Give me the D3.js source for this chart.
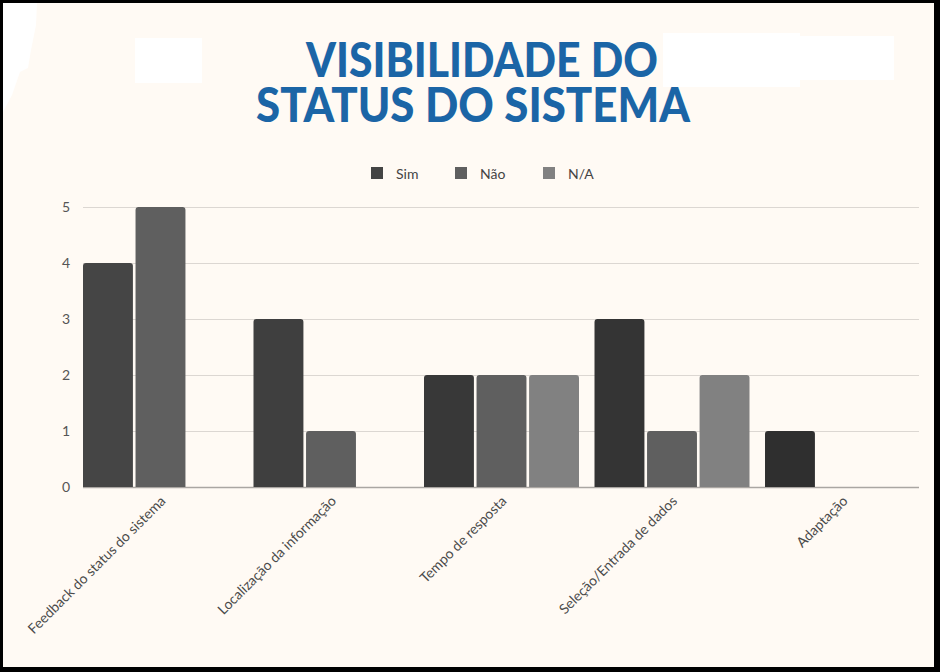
<!DOCTYPE html>
<html>
<head>
<meta charset="utf-8">
<script src="https://cdn.jsdelivr.net/npm/d3@7"></script>
<style>
  html, body { margin: 0; padding: 0; background: #000; }
  svg { display: block; }
</style>
</head>
<body>
<svg id="chart" width="940" height="672"></svg>
<script>
// ---- data ----
const categories = ["Feedback do status do sistema", "Localização da informação", "Tempo de resposta", "Seleção/Entrada de dados", "Adaptação"];
const seriesNames = ["Sim", "Não", "N/A"];
const simValues = [4, 3, 2, 3, 1];
const naoValues = [5, 1, 2, 1, 0];
const naValues  = [0, 0, 2, 2, 0];
const yTicks = [0, 1, 2, 3, 4, 5];
const titleLines = ["VISIBILIDADE DO", "STATUS DO SISTEMA"];

// ---- styles ----
const seriesColors = ["#444444", "#5f5f5f", "#818181"];
const simShades = ["#454545", "#3f3f3f", "#383838", "#343434", "#2f2f2f"];

const svg = d3.select("#chart");
const W = 940, H = 672;

// frame / background
svg.append("rect").attr("x", 0).attr("y", 0).attr("width", W).attr("height", H).attr("fill", "#000");
svg.append("rect").attr("x", 3).attr("y", 3).attr("width", 931).attr("height", 664).attr("fill", "#fffaf4");

// white patches (artifacts in the reference)
svg.append("path").attr("d", "M3,3 L37,3 L36,25 L31,50 L28,68 L20,72 L12,95 L3,112 Z").attr("fill", "#ffffff");
svg.append("rect").attr("x", 135).attr("y", 38).attr("width", 67).attr("height", 45).attr("fill", "#ffffff");
svg.append("rect").attr("x", 663).attr("y", 33).attr("width", 137).attr("height", 54).attr("fill", "#ffffff");
svg.append("rect").attr("x", 800).attr("y", 36).attr("width", 94).attr("height", 44).attr("fill", "#ffffff");

// title (one text element, two lines)
const titleSpecs = [
  { cx: 482, y: 77, len: 352 },
  { cx: 473, y: 122, len: 434 }
];
const title = svg.append("text")
  .attr("text-anchor", "middle")
  .attr("font-family", "Lato, 'DejaVu Sans', sans-serif")
  .attr("font-weight", 900)
  .attr("font-size", 47)
  .attr("fill", "#1b65a6");
titleLines.forEach((t, i) => {
  title.append("tspan")
    .attr("x", titleSpecs[i].cx)
    .attr("y", titleSpecs[i].y)
    .attr("textLength", titleSpecs[i].len)
    .attr("lengthAdjust", "spacingAndGlyphs")
    .text(t);
});

// scales
const x0 = d3.scaleBand().domain(categories).range([83, 920]).paddingInner(0.091).paddingOuter(0);
const x1 = d3.scaleBand().domain(seriesNames).range([0, x0.bandwidth()]).paddingInner(0.05);
const y = d3.scaleLinear().domain([0, 5]).range([487, 207]);

// grid
const gridG = svg.append("g");
yTicks.forEach(t => {
  gridG.append("line")
    .attr("x1", 83).attr("x2", 919)
    .attr("y1", y(t) + 0.5).attr("y2", y(t) + 0.5)
    .attr("stroke", t === 0 ? "#aaa6a2" : "#dcd7d2")
    .attr("stroke-width", t === 0 ? 1.5 : 1);
});

// y axis labels
const yAxis = d3.axisLeft(y).tickValues(yTicks).tickSize(0).tickPadding(0).tickFormat(d3.format("d"));
const yG = svg.append("g").attr("transform", "translate(70,0)").call(yAxis);
yG.select(".domain").remove();
yG.selectAll("text")
  .attr("font-family", "Lato, sans-serif")
  .attr("font-size", 14)
  .attr("fill", "#555");

// bars
const seriesValues = [simValues, naoValues, naValues];
const rows = [];
categories.forEach((c, ci) => {
  seriesNames.forEach((s, si) => {
    rows.push({ cat: c, ci, series: s, si, value: seriesValues[si][ci] });
  });
});

function topRounded(x, yTop, w, yBot, r) {
  const h = yBot - yTop;
  r = Math.min(r, h, w / 2);
  return `M${x},${yBot} L${x},${yTop + r} Q${x},${yTop} ${x + r},${yTop} L${x + w - r},${yTop} Q${x + w},${yTop} ${x + w},${yTop + r} L${x + w},${yBot} Z`;
}

svg.append("g").selectAll("path")
  .data(rows.filter(d => d.value > 0))
  .join("path")
  .attr("d", d => topRounded(x0(d.cat) + x1(d.series), y(d.value), x1.bandwidth(), y(0), 3))
  .attr("fill", d => d.si === 0 ? simShades[d.ci] : seriesColors[d.si]);

// x labels
const xLab = svg.append("g");
categories.forEach(c => {
  const cx = x0(c) + x0.bandwidth() / 2 + 6;
  xLab.append("text")
    .attr("transform", `translate(${cx},${502}) rotate(-45)`)
    .attr("text-anchor", "end")
    .attr("font-family", "Lato, sans-serif")
    .attr("font-size", 14)
    .attr("fill", "#4a4a4a")
    .text(c);
});

// legend
const legendItems = [
  { name: seriesNames[0], sx: 371, tx: 396 },
  { name: seriesNames[1], sx: 455, tx: 480 },
  { name: seriesNames[2], sx: 543, tx: 568 }
];
legendItems.forEach((li, i) => {
  svg.append("rect").attr("x", li.sx).attr("y", 167).attr("width", 12).attr("height", 12)
    .attr("fill", seriesColors[i]);
  svg.append("text").attr("x", li.tx).attr("y", 178.5)
    .attr("font-family", "Lato, sans-serif").attr("font-size", 14).attr("fill", "#444")
    .text(li.name);
});
</script>
</body>
</html>
